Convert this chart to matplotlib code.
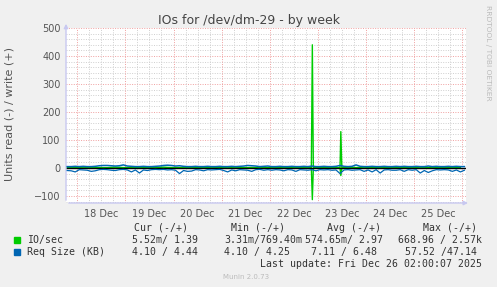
import matplotlib.pyplot as plt
from matplotlib.patches import Rectangle
import numpy as np

# hours since 18 Dec 00:00
day_labels = ["18 Dec", "19 Dec", "20 Dec", "21 Dec", "22 Dec", "23 Dec", "24 Dec", "25 Dec"]

# Req size (KB), one sample every 2 h starting at -5 h
req_t = np.arange(-5, 195, 2)
req_write = [5, 5, 6, 5, 6, 5, 5, 6, 8, 9,
             9, 8, 7, 8, 11, 7, 6, 5, 5, 6,
             5, 5, 6, 7, 9, 10, 9, 7, 8, 6,
             5, 5, 6, 5, 5, 6, 5, 5, 6, 5,
             5, 6, 5, 6, 7, 9, 8, 7, 5, 6,
             7, 5, 5, 6, 5, 5, 6, 5, 5, 6,
             5, 7, 5, 5, 6, 5, 5, 6, 9, 6,
             5, 6, 11, 6, 5, 5, 6, 5, 5, 6,
             5, 5, 6, 5, 6, 5, 5, 6, 5, 5,
             7, 5, 6, 5, 5, 6, 5, 6, 5, 5]
req_read = [9, 10, 14, 6, 7, 8, 12, 10, 6, 5,
            6, 8, 9, 6, 5, 7, 14, 7, 18, 7,
            9, 6, 5, 6, 5, 7, 6, 8, 20, 9,
            12, 11, 6, 7, 10, 6, 7, 6, 5, 9,
            14, 7, 10, 6, 7, 8, 12, 6, 5, 8,
            6, 8, 6, 7, 10, 6, 7, 12, 6, 7,
            8, 6, 10, 6, 7, 6, 8, 7, 20, 7,
            6, 8, 7, 6, 12, 7, 14, 6, 18, 7,
            6, 8, 8, 6, 12, 6, 8, 6, 18, 9,
            16, 10, 6, 7, 6, 7, 12, 7, 14, 8]

# IO/sec, one sample every 4 h plus the two bursts
io_t_base = np.arange(-5, 195, 4)
io_write_base = [1.5, 1.4, 3, 1.5, 1.4, 1.3, 3, 1.5, 1.4, 1.5,
                 1.4, 1.5, 3, 1.4, 1.5, 1.3, 1.4, 1.5, 3, 1.4,
                 3, 1.5, 1.4, 1.5, 1.4, 1.5, 1.4, 1.5, 1.3, 1.5,
                 1.4, 1.5, 1.4, 1.5, 1.4, 3, 1.5, 3, 1.4, 1.5,
                 1.4, 1.5, 1.4, 1.5, 3, 1.5, 1.4, 1.5, 1.4, 1.4]
io_read_base = [0.6, 0.5, 0.6, 0.5, 0.6, 0.5, 0.6, 0.5, 0.6, 0.5,
                0.6, 0.5, 0.6, 0.5, 0.6, 0.5, 0.6, 0.5, 0.6, 0.5,
                0.6, 0.5, 0.6, 0.5, 0.6, 0.5, 0.6, 0.5, 0.6, 0.5,
                0.6, 0.5, 0.6, 0.5, 0.6, 0.5, 0.6, 0.5, 0.6, 0.5,
                0.6, 0.5, 0.6, 0.5, 0.6, 0.5, 0.6, 0.5, 0.6, 0.5]
burst_t = [116.7, 117.2, 117.7, 130.9, 131.4, 131.9]
burst_write = [1.5, 440, 1.5, 1.5, 130, 1.5]
burst_read = [0.5, 113, 0.5, 0.5, 27, 0.5]

io_t = np.concatenate([io_t_base, burst_t])
order = np.argsort(io_t)
io_t = io_t[order]
io_write = np.concatenate([io_write_base, burst_write])[order]
io_read = np.concatenate([io_read_base, burst_read])[order]

legend_head = ["Cur (-/+)", "Min (-/+)", "Avg (-/+)", "Max (-/+)"]
io_vals = ["5.52m/ 1.39", "3.31m/769.40m", "574.65m/ 2.97", "668.96 / 2.57k"]
req_vals = ["4.10 / 4.44", "4.10 / 4.25", "7.11 / 6.48", "57.52 /47.14"]

GREEN = "#00CC00"
BLUE = "#0066B3"
W, H = 497, 287

fig = plt.figure(figsize=(W / 100, H / 100), dpi=100, facecolor="#F0F0F0")
ax = fig.add_axes([66 / W, 84 / H, 400 / W, 175 / H])
ax.set_facecolor("white")
ax.set_xlim(-5.6, 193.8)
ax.set_ylim(-125, 500)

# grid: minor grey, major red, both dotted
for y in range(-120, 501, 20):
    major = y % 100 == 0
    ax.axhline(y, color="#F0A0A0" if major else "#CFCFCF", lw=0.7,
               ls=(0, (1, 1.5)), zorder=0)
for t in range(0, 194, 6):
    major = t % 24 == 0
    ax.axvline(t, color="#F0A0A0" if major else "#CFCFCF", lw=0.7,
               ls=(0, (1, 1.5)), zorder=0)

ax.plot(io_t, -io_read, color=GREEN, lw=1.0, zorder=2)
ax.plot(io_t, io_write, color=GREEN, lw=1.0, zorder=2)
ax.axhline(0, color="black", lw=1.0, zorder=3)
ax.plot(req_t, -np.array(req_read), color=BLUE, lw=0.9, zorder=4)
ax.plot(req_t, req_write, color=BLUE, lw=1.1, zorder=4)

for s in ax.spines.values():
    s.set_visible(False)

ax.set_yticks(range(-100, 501, 100))
ax.tick_params(axis="y", length=0, pad=4, labelsize=7, labelcolor="#555555")
ax.set_xticks(np.arange(12, 193, 24))
ax.set_xticklabels(day_labels)
ax.tick_params(axis="x", length=0, pad=4.3, labelsize=7, labelcolor="#555555")

# axis lines with arrows
ax.annotate("", xy=(0, 1.04), xytext=(0, 0), xycoords="axes fraction",
            arrowprops=dict(arrowstyle="-|>", color="#C8C8F0", lw=1, mutation_scale=6),
            annotation_clip=False)
ax.annotate("", xy=(1.012, 0), xytext=(0, 0), xycoords="axes fraction",
            arrowprops=dict(arrowstyle="-|>", color="#C8C8F0", lw=1, mutation_scale=6),
            annotation_clip=False)


def fx(x):
    return x / W


def fy(y):
    return 1 - y / H


fig.text(fx(249), fy(24.3), "IOs for /dev/dm-29 - by week", ha="center",
         va="baseline", fontsize=9, color="#444444")
fig.text(fx(10), fy(114.5), "Units read (-) / write (+)", rotation=90,
         ha="center", va="center", fontsize=8, color="#555555")
fig.text(fx(488), fy(53), "RRDTOOL / TOBI OETIKER", rotation=270,
         ha="center", va="center", fontsize=5.4, color="#BBBBBB")

mono = dict(family="DejaVu Sans Mono", fontsize=7.1, color="#333333", va="baseline")
for x, s in zip([134.3, 231, 327.3, 423.3], legend_head):
    fig.text(fx(x), fy(231), s, **mono)
fig.text(fx(26.7), fy(243.3), "IO/sec", **mono)
fig.text(fx(26.7), fy(255), "Req Size (KB)", **mono)
for x, s in zip([131.7, 224.3, 305, 398.3], io_vals):
    fig.text(fx(x), fy(243.3), s, **mono)
for x, s in zip([131.7, 224.3, 311, 405], req_vals):
    fig.text(fx(x), fy(255), s, **mono)
fig.text(fx(482), fy(266.7), "Last update: Fri Dec 26 02:00:07 2025",
         ha="right", **mono)
fig.patches.append(Rectangle((fx(14), fy(243.3)), 6 / W, 6 / H, color=GREEN,
                             transform=fig.transFigure, figure=fig))
fig.patches.append(Rectangle((fx(14), fy(255)), 6 / W, 6 / H, color=BLUE,
                             transform=fig.transFigure, figure=fig))
fig.text(fx(223.3), fy(279), "Munin 2.0.73", fontsize=5, color="#BBBBBB",
         va="baseline")

fig.savefig("out.png", dpi=100, facecolor=fig.get_facecolor())
